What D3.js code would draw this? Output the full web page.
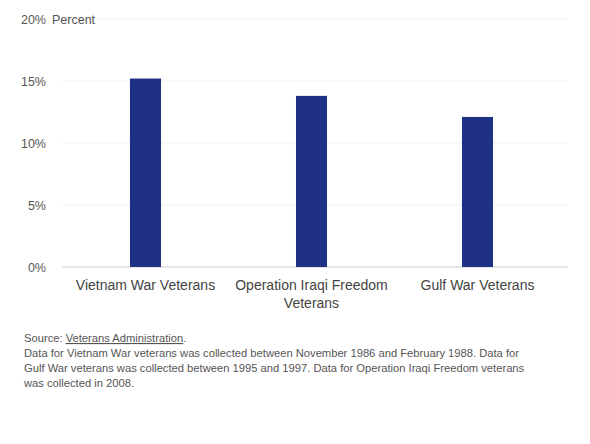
<!DOCTYPE html><html><head><meta charset="utf-8">
<script src="https://cdn.jsdelivr.net/npm/d3@7"></script>
<style>body{margin:0;background:#fff;font-family:"Liberation Sans",Arial,sans-serif}</style></head><body>
<svg id="c" width="590" height="444"></svg>
<script>
const categories=[["Vietnam War Veterans"],["Operation Iraqi Freedom","Veterans"],["Gulf War Veterans"]];
const values=[15.2,13.8,12.1];
const ticks=[0,5,10,15,20];
const notes=["Data for Vietnam War veterans was collected between November 1986 and February 1988. Data for","Gulf War veterans was collected between 1995 and 1997. Data for Operation Iraqi Freedom veterans","was collected in 2008."];
const svg=d3.select("#c");
const x=d3.scaleBand().domain(d3.range(3)).range([62.5,560.5]).paddingInner(0.813).paddingOuter(0.4065);
const y=d3.scaleLinear().domain([0,20]).range([267,19]);
ticks.forEach(t=>{
 svg.append("line").attr("x1",62).attr("x2",568).attr("y1",y(t)).attr("y2",y(t)).attr("stroke",t==0?"#ccc":"#f0f0f0");
 svg.append("text").attr("x",46).attr("y",y(t)+4.5).attr("text-anchor","end").attr("font-size",12.5).attr("fill","#555").text(t+"%");
});
svg.append("text").attr("x",52).attr("y",y(20)+4.5).attr("font-size",12.5).attr("fill","#555").text("Percent");
svg.selectAll("rect").data(values).join("rect").attr("x",(d,i)=>x(i)).attr("width",x.bandwidth()).attr("y",d=>y(d)).attr("height",d=>y(0)-y(d)).attr("fill","#1f3185");
categories.forEach((c,i)=>{c.forEach((l,j)=>svg.append("text").attr("x",x(i)+x.bandwidth()/2).attr("y",290+j*18).attr("text-anchor","middle").attr("font-size",14).attr("fill","#444").text(l));});
const s=svg.append("text").attr("x",24).attr("y",342).attr("font-size",11.2).attr("fill","#555");
s.append("tspan").text("Source: ");
s.append("tspan").attr("text-decoration","underline").text("Veterans Administration");
s.append("tspan").text(".");
notes.forEach((n,i)=>svg.append("text").attr("x",24).attr("y",357+i*15).attr("font-size",11.2).attr("fill","#555").text(n));
</script></body></html>
